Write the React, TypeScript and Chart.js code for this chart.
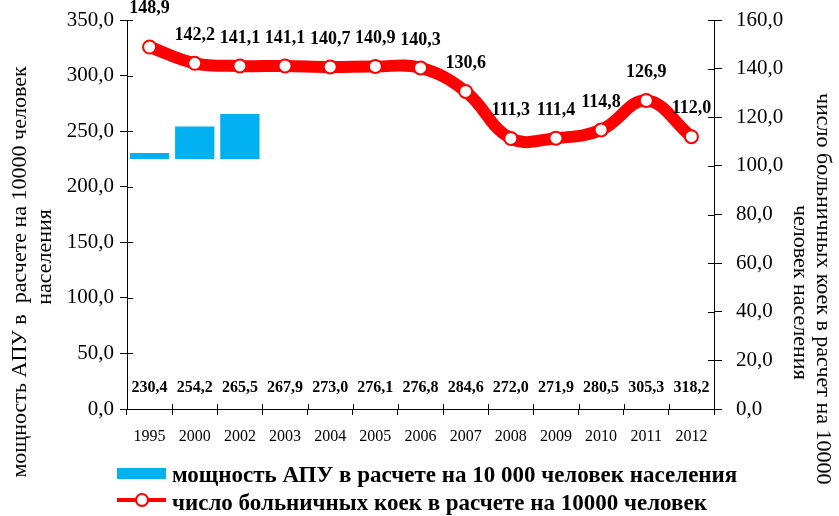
import React, { useEffect, useRef } from "react";
import { Chart, registerables } from "chart.js";

Chart.register(...registerables);

const years = ["1995", "2000", "2002", "2003", "2004", "2005", "2006", "2007", "2008", "2009", "2010", "2011", "2012"];
const apuPower = [230.4, 254.2, 265.5, 267.9, 273.0, 276.1, 276.8, 284.6, 272.0, 271.9, 280.5, 305.3, 318.2];
const hospitalBeds = [148.9, 142.2, 141.1, 141.1, 140.7, 140.9, 140.3, 130.6, 111.3, 111.4, 114.8, 126.9, 112.0];
const barBase = 225;
const visibleBarCount = 3;
const leftTicks = { min: 0, max: 350, step: 50 };
const rightTicks = { min: 0, max: 160, step: 20 };

const leftTitle1 = "мощность АПУ в  расчете на 10000 человек";
const leftTitle2 = "населения";
const rightTitle1 = "число больничных коек в расчет на 10000";
const rightTitle2 = "человек населения";
const legend1 = "мощность АПУ в расчете на 10 000 человек населения";
const legend2 = "число больничных коек в расчете на 10000 человек";

const SERIF = '"Liberation Serif", "Times New Roman", serif';
const BLUE = "#00B0F0";
const RED = "#FF0000";

const fmt = (v: number) => v.toFixed(1).replace(".", ",");

const decorPlugin = {
  id: "decor",
  afterDraw(chart: any) {
    const ctx = chart.ctx as CanvasRenderingContext2D;
    const xs = chart.scales.x;
    const yl = chart.scales.y;
    const yr = chart.scales.y1;
    const area = chart.chartArea;
    ctx.save();

    // inner tick marks
    ctx.strokeStyle = "#000";
    ctx.lineWidth = 1;
    ctx.beginPath();
    for (let v = leftTicks.min; v <= leftTicks.max; v += leftTicks.step) {
      const y = Math.round(yl.getPixelForValue(v)) + 0.5;
      ctx.moveTo(area.left, y);
      ctx.lineTo(area.left + 6, y);
    }
    for (let v = rightTicks.min; v <= rightTicks.max; v += rightTicks.step) {
      const y = Math.round(yr.getPixelForValue(v)) + 0.5;
      ctx.moveTo(area.right, y);
      ctx.lineTo(area.right - 6, y);
    }
    const n = years.length;
    const w = (area.right - area.left) / n;
    for (let i = 0; i <= n; i++) {
      const x = Math.round(area.left + i * w) + 0.5;
      ctx.moveTo(x, area.bottom);
      ctx.lineTo(x, area.bottom - 5);
    }
    ctx.stroke();

    // bar value labels along the bottom
    ctx.fillStyle = "#000";
    ctx.textAlign = "center";
    ctx.textBaseline = "middle";
    ctx.font = `bold 16px ${SERIF}`;
    apuPower.forEach((v, i) => {
      ctx.fillText(fmt(v), xs.getPixelForValue(i), area.bottom - 21);
    });

    // line value labels
    ctx.font = `bold 18px ${SERIF}`;
    const meta = chart.getDatasetMeta(1);
    meta.data.forEach((pt: any, i: number) => {
      const lift = i === 0 ? 39 : 28;
      ctx.fillText(fmt(hospitalBeds[i]), pt.x, pt.y - lift);
    });

    // axis titles
    ctx.font = `22px ${SERIF}`;
    ctx.textBaseline = "alphabetic";
    ctx.save();
    ctx.translate(26, 272);
    ctx.rotate(-Math.PI / 2);
    ctx.textAlign = "center";
    ctx.fillText(leftTitle1, 0, 0);
    ctx.restore();
    ctx.save();
    ctx.translate(51, 257);
    ctx.rotate(-Math.PI / 2);
    ctx.textAlign = "center";
    ctx.fillText(leftTitle2, 0, 0);
    ctx.restore();

    ctx.save();
    ctx.translate(817, 93);
    ctx.rotate(Math.PI / 2);
    ctx.textAlign = "left";
    ctx.fillText(rightTitle1, 0, 0);
    ctx.restore();
    ctx.save();
    ctx.translate(794, 205);
    ctx.rotate(Math.PI / 2);
    ctx.textAlign = "left";
    ctx.fillText(rightTitle2, 0, 0);
    ctx.restore();

    // legend
    ctx.fillStyle = BLUE;
    ctx.fillRect(117, 468, 49, 11);
    ctx.strokeStyle = RED;
    ctx.lineWidth = 4;
    ctx.beginPath();
    ctx.moveTo(117, 500);
    ctx.lineTo(166, 500);
    ctx.stroke();
    ctx.beginPath();
    ctx.arc(142, 500, 6, 0, Math.PI * 2);
    ctx.fillStyle = "#fff";
    ctx.fill();
    ctx.lineWidth = 2;
    ctx.stroke();

    ctx.fillStyle = "#000";
    ctx.font = `bold 23px ${SERIF}`;
    ctx.textAlign = "left";
    ctx.fillText(legend1, 172, 482);
    ctx.fillText(legend2, 172, 510);

    ctx.restore();
  },
};

export default function App() {
  const ref = useRef<HTMLCanvasElement | null>(null);

  useEffect(() => {
    let chart: any = null;
    let cancelled = false;
    const build = () => {
      if (cancelled || !ref.current) return;
      const barData = apuPower.map((v, i) => (i < visibleBarCount ? [barBase, v] : null));
      chart = new Chart(ref.current, {
        type: "bar",
        data: {
          labels: years,
          datasets: [
            {
              type: "bar",
              label: legend1,
              data: barData as any,
              yAxisID: "y",
              backgroundColor: BLUE,
              borderWidth: 0,
              barPercentage: 0.87,
              categoryPercentage: 1,
              order: 2,
            },
            {
              type: "line",
              label: legend2,
              data: hospitalBeds,
              yAxisID: "y1",
              borderColor: RED,
              borderWidth: 12,
              tension: 0.4,
              pointRadius: 6.5,
              pointBackgroundColor: "#fff",
              pointBorderColor: RED,
              pointBorderWidth: 2,
              order: 1,
            } as any,
          ],
        },
        options: {
          responsive: false,
          animation: false,
          devicePixelRatio: 1,
          layout: { padding: { top: 20, left: 0, right: 0, bottom: 0 } },
          plugins: { legend: { display: false }, tooltip: { enabled: false } },
          scales: {
            x: {
              offset: true,
              grid: { offset: true, drawOnChartArea: false, drawTicks: true, tickLength: 6, color: "#000" },
              border: { color: "#000", width: 1 },
              ticks: { font: { family: SERIF, size: 16 }, color: "#000", padding: 12, maxRotation: 0 },
              afterFit: (s: any) => {
                s.height = 107;
                s.paddingLeft = 0;
                s.paddingRight = 0;
              },
            },
            y: {
              position: "left",
              min: leftTicks.min,
              max: leftTicks.max,
              grid: { drawOnChartArea: false, tickLength: 7, color: "#000" },
              border: { color: "#000", width: 1 },
              ticks: {
                stepSize: leftTicks.step,
                font: { family: SERIF, size: 21 },
                color: "#000",
                padding: 6,
                callback: (v: any) => fmt(Number(v)),
              },
              afterFit: (s: any) => {
                s.width = 127;
                s.paddingTop = 0;
                s.paddingBottom = 0;
              },
            },
            y1: {
              position: "right",
              min: rightTicks.min,
              max: rightTicks.max,
              grid: { drawOnChartArea: false, tickLength: 8, color: "#000" },
              border: { color: "#000", width: 1 },
              ticks: {
                stepSize: rightTicks.step,
                font: { family: SERIF, size: 21 },
                color: "#000",
                padding: 14,
                callback: (v: any) => fmt(Number(v)),
              },
              afterFit: (s: any) => {
                s.width = 125;
                s.paddingTop = 0;
                s.paddingBottom = 0;
              },
            },
          },
        } as any,
        plugins: [decorPlugin],
      });
    };
    const fonts: any = (document as any).fonts;
    if (fonts && fonts.load) {
      Promise.all([
        fonts.load('20px "Liberation Serif"', "абв123"),
        fonts.load('bold 20px "Liberation Serif"', "абв123"),
      ])
        .catch(() => null)
        .then(build);
    } else {
      build();
    }
    return () => {
      cancelled = true;
      if (chart) chart.destroy();
    };
  }, []);

  return (
    <div style={{ position: "fixed", left: 0, top: 0, width: 839, height: 516, background: "#fff" }}>
      <canvas ref={ref} width={839} height={516} style={{ display: "block" }} />
    </div>
  );
}
